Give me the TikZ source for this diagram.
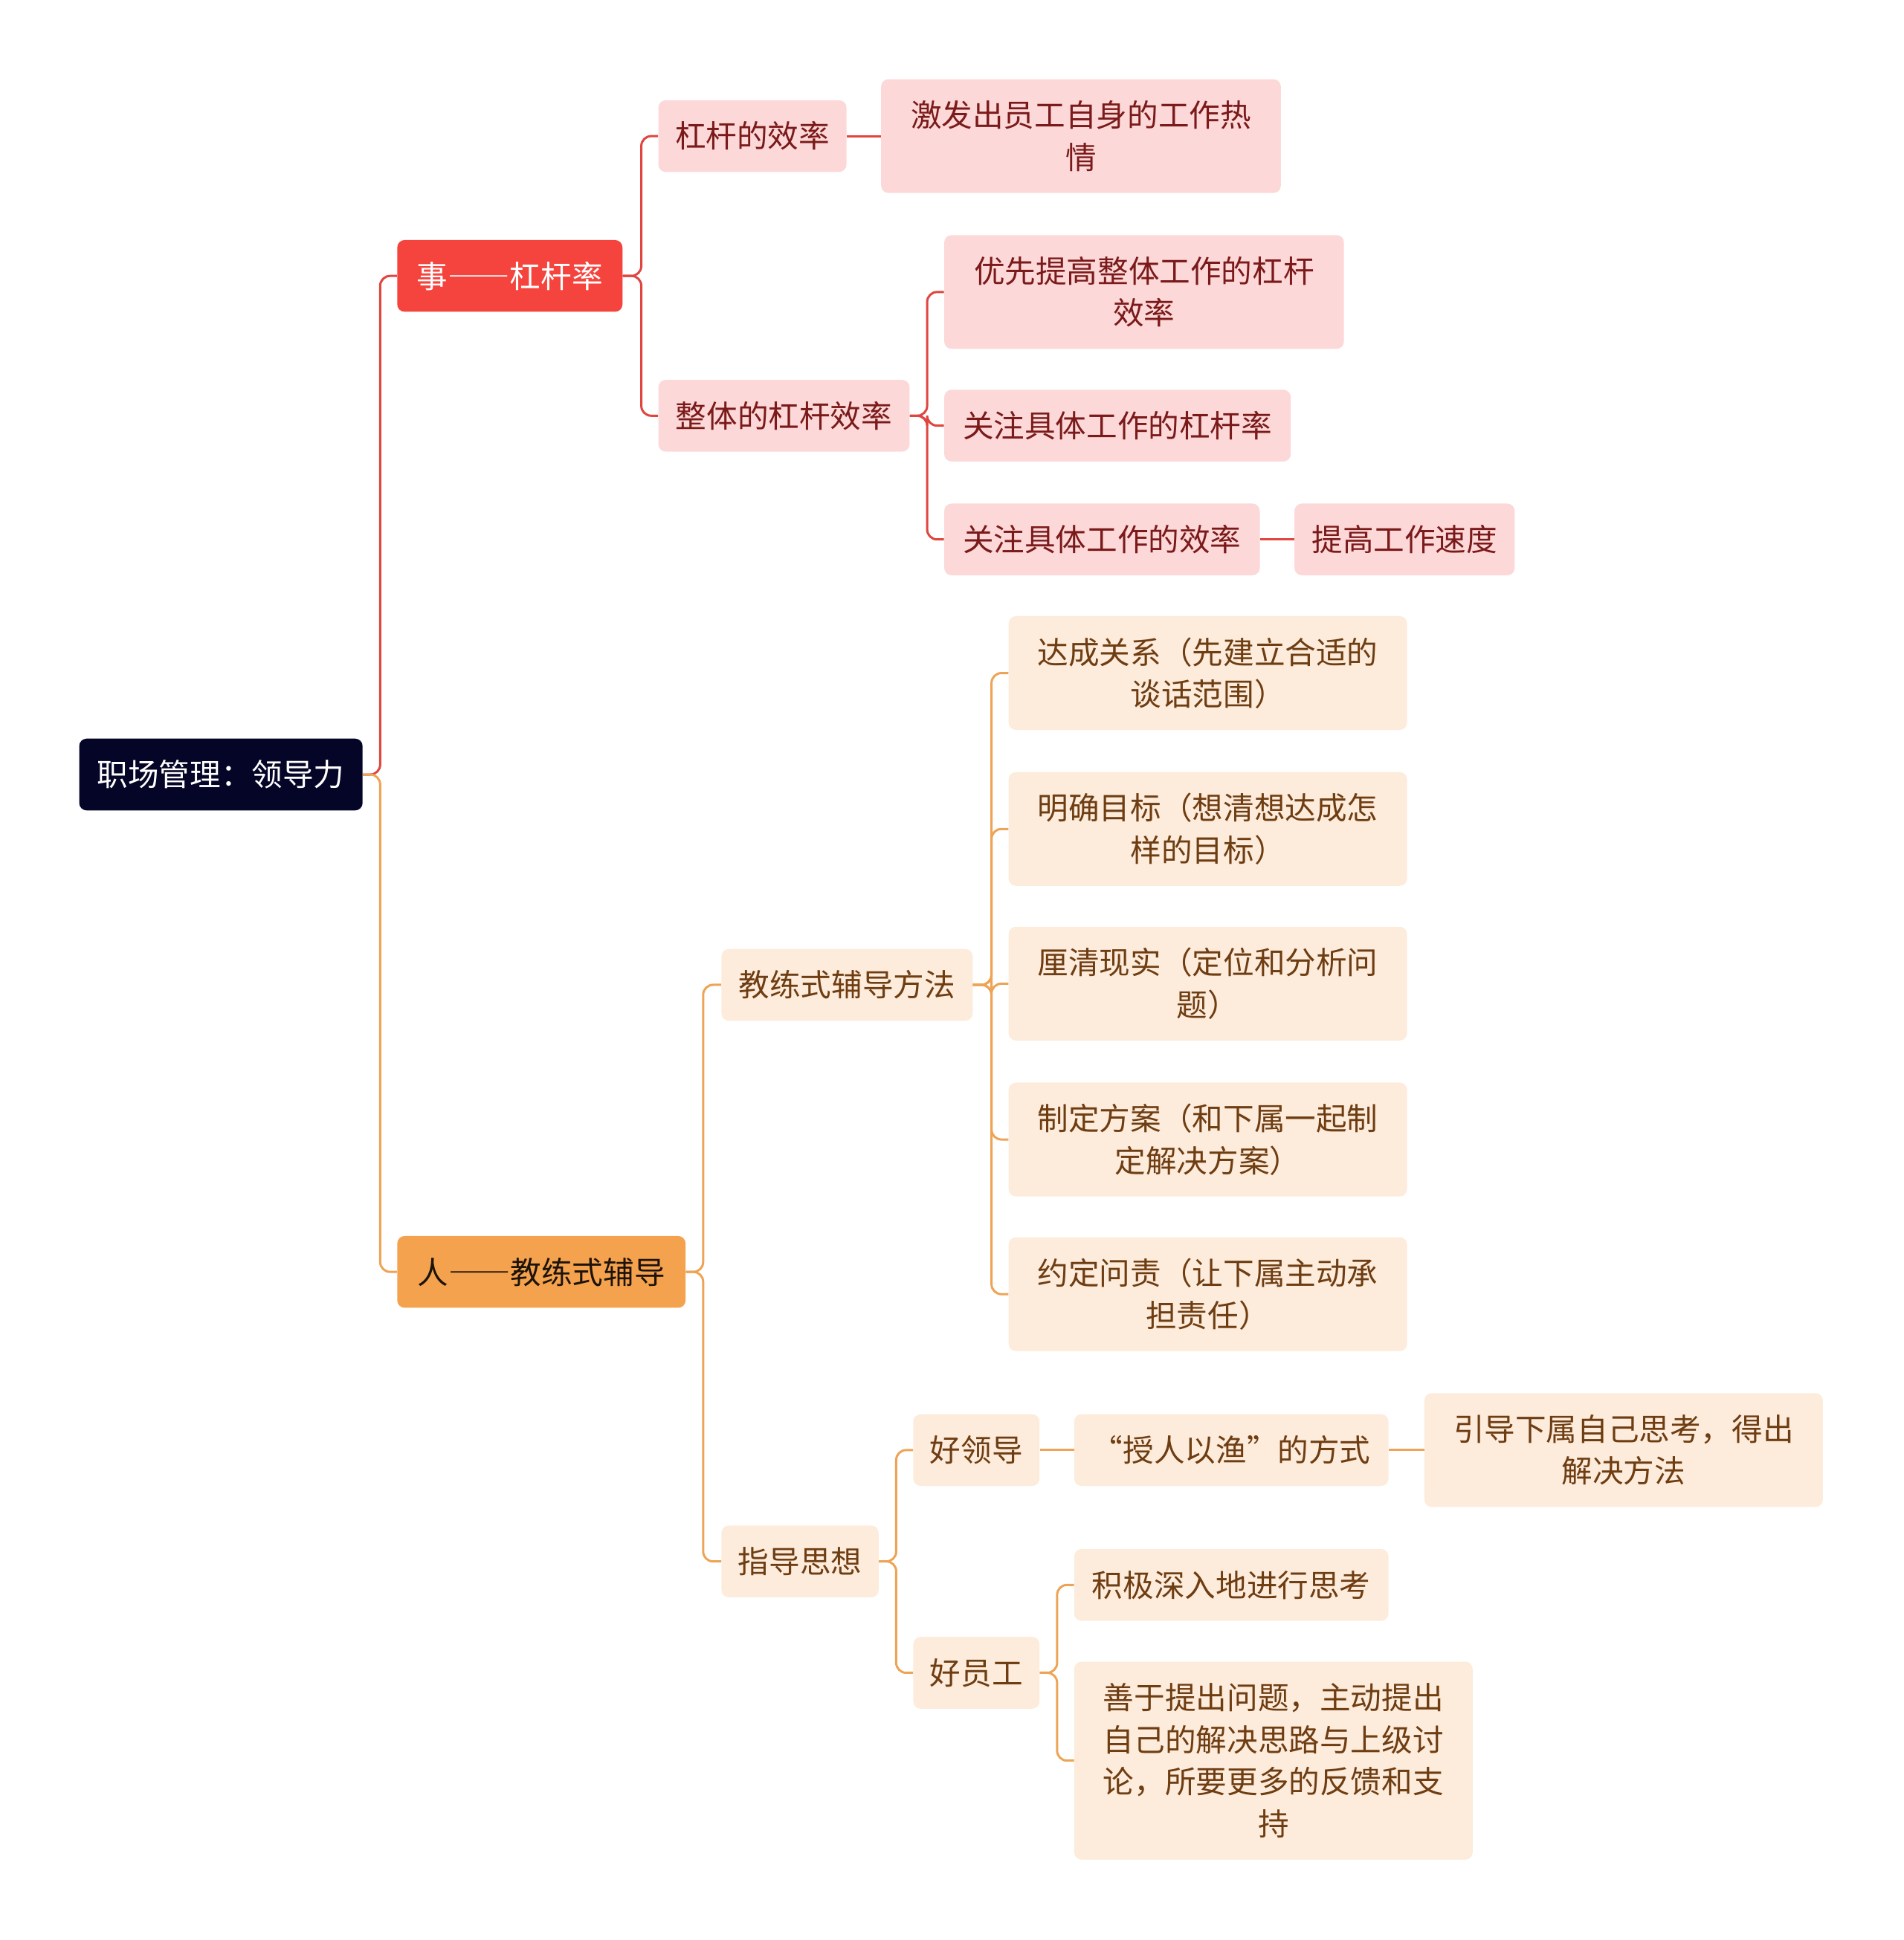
\documentclass[tikz,border=0pt]{standalone}
\usepackage{fontspec}
\setmainfont{Noto Sans CJK SC}
\newfontfamily\fwfont[RawFeature=+fwid]{Noto Sans CJK SC}
\definecolor{rootc}{HTML}{050527}
\definecolor{redc}{HTML}{F5433D}
\definecolor{orgc}{HTML}{F4A24D}
\definecolor{pinkf}{HTML}{FDD8D8}
\definecolor{pinkt}{HTML}{7B1A1A}
\definecolor{peachf}{HTML}{FDEBDB}
\definecolor{peacht}{HTML}{6E3D12}
\definecolor{lred}{HTML}{E0453F}
\definecolor{lorg}{HTML}{EDA456}
\tikzset{
  box/.style={rounded corners=6pt, inner sep=0pt, align=center, font=\fontsize{25}{34}\selectfont},
  rootbox/.style={box, fill=rootc, text=white, minimum height=58pt},
  redbox/.style={box, fill=redc, text=white, minimum height=58pt},
  orgbox/.style={box, fill=orgc, text=black!85!brown, minimum height=58pt},
  pinkbox/.style={box, fill=pinkf, text=pinkt, minimum height=58pt},
  peachbox/.style={box, fill=peachf, text=peacht, minimum height=58pt},
  rl/.style={draw=lred, line width=1.8pt, rounded corners=8pt},
  ol/.style={draw=lorg, line width=1.8pt, rounded corners=8pt},
}
\begin{document}
\begin{tikzpicture}[x=1pt,y=-1pt]
\useasboundingbox (0,0) rectangle (1538,1568);
% nodes
\node[rootbox, minimum width=229pt] (root) at (178.5,626) {职场管理：领导力};
\node[redbox, minimum width=182pt] (shi) at (412,223) {事{\fwfont ——}杠杆率};
\node[orgbox, minimum width=233pt] (ren) at (437.5,1028) {人{\fwfont ——}教练式辅导};
% red branch
\node[pinkbox, minimum width=152pt] (a1) at (608,110) {杠杆的效率};
\node[pinkbox, minimum width=323pt, minimum height=92pt] (a2) at (873.5,110) {激发出员工自身的工作热\\情};
\node[pinkbox, minimum width=203pt] (b) at (633.5,336) {整体的杠杆效率};
\node[pinkbox, minimum width=323pt, minimum height=92pt] (b1) at (924.5,236) {优先提高整体工作的杠杆\\效率};
\node[pinkbox, minimum width=280pt] (b2) at (903,344) {关注具体工作的杠杆率};
\node[pinkbox, minimum width=255pt] (b3) at (890.5,436) {关注具体工作的效率};
\node[pinkbox, minimum width=178pt] (b4) at (1135,436) {提高工作速度};
% orange branch
\node[peachbox, minimum width=203pt] (c) at (684.5,796) {教练式辅导方法};
\node[peachbox, minimum width=322pt, minimum height=92pt] (c1) at (976,544) {达成关系（先建立合适的\\谈话范围）};
\node[peachbox, minimum width=322pt, minimum height=92pt] (c2) at (976,670) {明确目标（想清想达成怎\\样的目标）};
\node[peachbox, minimum width=322pt, minimum height=92pt] (c3) at (976,795) {厘清现实（定位和分析问\\题）};
\node[peachbox, minimum width=322pt, minimum height=92pt] (c4) at (976,921) {制定方案（和下属一起制\\定解决方案）};
\node[peachbox, minimum width=322pt, minimum height=92pt] (c5) at (976,1046) {约定问责（让下属主动承\\担责任）};
\node[peachbox, minimum width=127pt] (d) at (646.5,1262) {指导思想};
\node[peachbox, minimum width=102pt] (d1) at (789,1172) {好领导};
\node[peachbox, minimum width=254pt] (d11) at (995,1172) {“授人以渔”的方式};
\node[peachbox, minimum width=322pt, minimum height=92pt] (d12) at (1312,1172) {引导下属自己思考，得出\\解决方法};
\node[peachbox, minimum width=102pt] (d2) at (789,1352) {好员工};
\node[peachbox, minimum width=254pt] (d21) at (995,1281) {积极深入地进行思考};
\node[peachbox, minimum width=322pt, minimum height=160pt] (d22) at (1029,1423) {善于提出问题，主动提出\\自己的解决思路与上级讨\\论，所要更多的反馈和支\\持};
% connectors red
\draw[rl] (root.east) -- ++(14,0) |- (shi.west);
\draw[ol] (root.east) -- ++(14,0) |- (ren.west);
\draw[rl] (shi.east) -- ++(15,0) |- (a1.west);
\draw[rl] (shi.east) -- ++(15,0) |- (b.west);
\draw[rl] (a1.east) -- (a2.west);
\draw[rl] (b.east) -- ++(14,0) |- (b1.west);
\draw[rl] (b.east) -- ++(14,0) |- (b2.west);
\draw[rl] (b.east) -- ++(14,0) |- (b3.west);
\draw[rl] (b3.east) -- (b4.west);
% connectors orange
\draw[ol] (ren.east) -- ++(14,0) |- (c.west);
\draw[ol] (ren.east) -- ++(14,0) |- (d.west);
\foreach \k in {c1,c2,c3,c4,c5}{\draw[ol] (c.east) -- ++(15,0) |- (\k.west);}
\draw[ol] (d.east) -- ++(14,0) |- (d1.west);
\draw[ol] (d.east) -- ++(14,0) |- (d2.west);
\draw[ol] (d1.east) -- (d11.west);
\draw[ol] (d11.east) -- (d12.west);
\draw[ol] (d2.east) -- ++(14,0) |- (d21.west);
\draw[ol] (d2.east) -- ++(14,0) |- (d22.west);
\end{tikzpicture}
\end{document}
